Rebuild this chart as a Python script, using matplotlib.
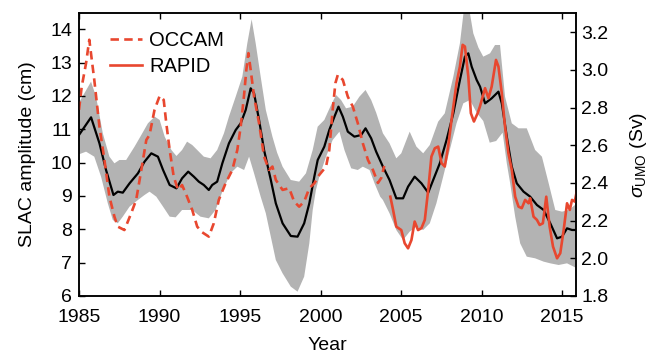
import numpy as np
import matplotlib
matplotlib.use("Agg")
import matplotlib.pyplot as plt

plt.rcParams['font.family'] = ['Liberation Sans', 'DejaVu Sans']
plt.rcParams['mathtext.fontset'] = 'custom'
plt.rcParams['mathtext.rm'] = 'Liberation Sans'
plt.rcParams['mathtext.it'] = 'Liberation Sans:italic'

RED = '#e8472f'
GREY = '#b3b3b3'

# SLAC amplitude ensemble mean (cm)
slac_year = [1985.0, 1985.75, 1986.27, 1986.68, 1987.14, 1987.41, 1987.72, 1988.14,
             1988.66, 1989.07, 1989.49, 1989.9, 1990.22, 1990.63, 1991.05, 1991.4,
             1991.78, 1992.13, 1992.44, 1992.75, 1993.06, 1993.27, 1993.58, 1993.9,
             1994.31, 1994.73, 1995.04, 1995.35, 1995.66, 1995.87, 1996.18, 1996.49,
             1996.91, 1997.22, 1997.64, 1998.15, 1998.57, 1998.98, 1999.3, 1999.61,
             1999.82, 2000.23, 2000.54, 2000.86, 2001.11, 2001.38, 2001.69, 2002.1,
             2002.52, 2002.79, 2003.14, 2003.45, 2003.87, 2004.28, 2004.7, 2005.12,
             2005.43, 2005.84, 2006.26, 2006.68, 2006.99, 2007.4, 2007.82, 2008.24,
             2008.65, 2008.96, 2009.17, 2009.38, 2009.69, 2009.9, 2010.21, 2010.62,
             2011.04, 2011.25, 2011.56, 2011.87, 2012.18, 2012.6, 2013.01, 2013.43,
             2013.85, 2014.26, 2014.68, 2014.99, 2015.3, 2015.61, 2015.92]
slac_mean = [10.83, 11.36, 10.58, 9.78, 9.03, 9.13, 9.1, 9.38,
             9.68, 10.03, 10.28, 10.18, 9.78, 9.33, 9.23, 9.53,
             9.73, 9.58, 9.43, 9.33, 9.18, 9.33, 9.43, 9.98,
             10.58, 10.98, 11.18, 11.58, 12.23, 12.08, 11.28, 10.38,
             9.48, 8.78, 8.18, 7.8, 7.78, 8.18, 8.78, 9.58,
             10.08, 10.48, 10.98, 11.38, 11.68, 11.38, 10.93, 10.78,
             10.83, 11.03, 10.73, 10.33, 9.88, 9.48, 8.93, 8.93,
             9.28, 9.58, 9.38, 9.1, 9.48, 9.98, 10.68, 11.48,
             12.48, 13.18, 13.28, 12.88, 12.48, 12.28, 11.78, 11.93,
             12.13, 11.78, 10.78, 9.88, 9.38, 9.13, 8.98, 8.73,
             8.58, 8.18, 7.73, 7.78, 8.03, 7.98, 7.98]

# upper edge of the ensemble spread
upper_year = [1985.0, 1985.75, 1986.06, 1986.48, 1986.89, 1987.2, 1987.51, 1987.93,
              1988.45, 1988.87, 1989.28, 1989.7, 1990.01, 1990.32, 1990.74, 1991.05,
              1991.4, 1991.71, 1992.03, 1992.34, 1992.75, 1993.17, 1993.58, 1994.0,
              1994.31, 1994.73, 1995.14, 1995.45, 1995.72, 1995.97, 1996.28, 1996.6,
              1997.01, 1997.3, 1997.64, 1998.15, 1998.67, 1999.09, 1999.51, 1999.82,
              2000.23, 2000.65, 2000.96, 2001.27, 2001.58, 2002.0, 2002.41, 2002.79,
              2003.14, 2003.45, 2003.87, 2004.28, 2004.7, 2005.01, 2005.53, 2005.95,
              2006.37, 2006.78, 2007.3, 2007.71, 2008.24, 2008.65, 2008.9, 2009.05,
              2009.23, 2009.48, 2009.8, 2010.1, 2010.52, 2010.83, 2011.14, 2011.45,
              2011.87, 2012.29, 2012.8, 2013.32, 2013.74, 2014.16, 2014.57, 2014.99,
              2015.41, 2015.92]
upper_val = [11.8, 12.43, 11.98, 10.88, 10.18, 9.98, 10.08, 10.08,
             10.48, 10.83, 11.18, 11.38, 11.28, 10.78, 10.38, 10.2,
             10.38, 10.63, 10.53, 10.38, 10.18, 10.13, 10.38, 10.88,
             11.38, 11.98, 12.58, 13.58, 14.3, 13.58, 12.58, 11.58,
             10.78, 10.3, 9.88, 9.48, 9.43, 9.68, 10.38, 11.08,
             11.28, 11.73, 12.03, 11.88, 11.63, 11.68, 11.98, 12.18,
             11.88, 11.5, 10.88, 10.58, 10.13, 10.28, 10.93, 10.48,
             10.28, 10.53, 11.23, 11.48, 12.58, 13.58, 14.6, 14.9,
             14.6, 13.88, 13.45, 13.18, 13.28, 13.53, 13.53, 11.98,
             11.18, 11.03, 11.03, 10.38, 10.18, 9.38, 8.58, 8.53,
             8.58, 8.78]

# lower edge of the ensemble spread
lower_year = [1985.0, 1985.44, 1985.95, 1986.37, 1986.79, 1987.1, 1987.41, 1987.72,
              1988.14, 1988.66, 1989.07, 1989.38, 1989.8, 1990.22, 1990.63, 1991.0,
              1991.4, 1992.03, 1992.54, 1993.06, 1993.48, 1993.9, 1994.41, 1994.83,
              1995.25, 1995.56, 1995.87, 1996.28, 1996.6, 1996.91, 1997.22, 1997.64,
              1998.15, 1998.57, 1998.98, 1999.3, 1999.51, 1999.71, 1999.92, 2000.34,
              2000.75, 2001.17, 2001.48, 2001.9, 2002.31, 2002.62, 2003.04, 2003.35,
              2003.7, 2003.87, 2004.28, 2004.7, 2005.12, 2005.53, 2005.95, 2006.37,
              2006.78, 2007.19, 2007.61, 2008.02, 2008.44, 2008.86, 2009.27, 2009.69,
              2010.1, 2010.5, 2010.9, 2011.3, 2011.56, 2011.77, 2012.08, 2012.39,
              2012.8, 2013.32, 2013.85, 2014.26, 2014.78, 2015.3, 2015.92]
lower_val = [10.25, 10.33, 10.18, 9.58, 8.78, 8.28, 8.18, 8.38,
             8.68, 8.88, 9.03, 9.13, 8.98, 8.68, 8.38, 8.36,
             8.58, 8.58, 8.38, 8.33, 8.58, 9.13, 9.68, 9.88,
             9.78, 10.18, 9.68, 8.98, 8.48, 7.78, 7.08, 6.68,
             6.28, 6.13, 6.58, 7.58, 8.58, 9.18, 9.58, 10.18,
             10.68, 10.93, 10.38, 9.83, 9.78, 9.88, 9.78, 9.38,
             8.98, 8.88, 8.48, 7.98, 7.68, 7.93, 8.08, 7.98,
             8.18, 8.78, 9.58, 10.38, 11.18, 11.78, 11.88, 11.5,
             11.25, 10.6, 10.65, 10.9, 9.98, 9.38, 8.38, 7.58,
             7.18, 7.13, 7.03, 6.98, 6.93, 6.98, 6.83]

# sigma_UMO from OCCAM (Sv)
occam_year = [1985.0, 1985.17, 1985.44, 1985.64, 1985.95, 1986.27, 1986.58, 1986.89,
              1987.2, 1987.41, 1987.82, 1988.24, 1988.55, 1988.87, 1989.18, 1989.38,
              1989.69, 1990.01, 1990.26, 1990.42, 1990.63, 1990.88, 1991.15, 1991.4,
              1991.71, 1992.03, 1992.34, 1992.65, 1993.06, 1993.37, 1993.68, 1994.1,
              1994.52, 1994.83, 1995.04, 1995.24, 1995.39, 1995.52, 1995.66, 1995.87,
              1996.18, 1996.49, 1996.8, 1997.01, 1997.22, 1997.64, 1998.05, 1998.36,
              1998.67, 1998.98, 1999.3, 1999.61, 1999.92, 2000.34, 2000.54, 2000.75,
              2000.92, 2001.07, 2001.38, 2001.69, 2002.0, 2002.31, 2002.62, 2002.94,
              2003.25, 2003.56, 2003.77, 2003.95]
occam_sv = [2.788, 2.911, 3.036, 3.16, 2.947, 2.699, 2.522, 2.327,
            2.221, 2.168, 2.15, 2.239, 2.31, 2.469, 2.628, 2.655,
            2.788, 2.862, 2.841, 2.717, 2.575, 2.434, 2.363, 2.389,
            2.327, 2.257, 2.168, 2.138, 2.115, 2.186, 2.31, 2.398,
            2.469, 2.575, 2.699, 2.858, 3.0, 3.089, 3.0, 2.858,
            2.717, 2.54, 2.469, 2.487, 2.416, 2.363, 2.372, 2.301,
            2.274, 2.301, 2.372, 2.398, 2.443, 2.487, 2.575, 2.788,
            2.93, 2.974, 2.947, 2.858, 2.805, 2.717, 2.611, 2.522,
            2.469, 2.4, 2.427, 2.49]

# sigma_UMO from RAPID (Sv)
rapid_year = [2004.33, 2004.5, 2004.7, 2005.01, 2005.22, 2005.43, 2005.64, 2005.84,
              2006.05, 2006.26, 2006.47, 2006.68, 2006.88, 2007.09, 2007.3, 2007.51,
              2007.71, 2007.92, 2008.13, 2008.44, 2008.65, 2008.82, 2008.96, 2009.17,
              2009.33, 2009.52, 2009.75, 2009.89, 2010.21, 2010.42, 2010.62, 2010.89,
              2011.04, 2011.25, 2011.45, 2011.66, 2011.87, 2012.08, 2012.29, 2012.49,
              2012.7, 2012.91, 2013.01, 2013.22, 2013.43, 2013.6, 2013.8, 2014.01,
              2014.22, 2014.43, 2014.68, 2014.88, 2015.09, 2015.3, 2015.47, 2015.61,
              2015.78, 2015.92]
rapid_sv = [2.327, 2.257, 2.168, 2.15, 2.08, 2.053, 2.097, 2.195,
            2.15, 2.16, 2.204, 2.363, 2.54, 2.584, 2.593, 2.505,
            2.487, 2.593, 2.735, 2.93, 3.018, 3.133, 3.124, 2.965,
            2.77, 2.726, 2.77, 2.805, 2.903, 2.85, 2.911, 3.053,
            3.018, 2.876, 2.699, 2.558, 2.469, 2.327, 2.274, 2.266,
            2.31, 2.292, 2.319, 2.221, 2.204, 2.177, 2.186, 2.327,
            2.168, 2.062, 2.0, 2.027, 2.15, 2.292, 2.257, 2.31,
            2.301, 2.363]

fig = plt.figure(figsize=(6.56, 3.53), dpi=100)
ax = fig.add_axes([0.1204, 0.1615, 0.757, 0.8017])

band_x = np.concatenate([upper_year, lower_year[::-1]])
band_y = np.concatenate([upper_val, lower_val[::-1]])
ax.fill(band_x, band_y, color=GREY, lw=0, zorder=1)
ax.plot(slac_year, slac_mean, color='black', lw=1.6, zorder=2)

ax.set_xlim(1985, 2015.83)
ax.set_ylim(6, 14.49)
ax.set_xticks([1985, 1990, 1995, 2000, 2005, 2010, 2015])
ax.set_yticks(range(6, 15))
ax.set_xlabel('Year', fontsize=14, labelpad=8)
ax.set_ylabel('SLAC amplitude (cm)', fontsize=14, labelpad=10)
ax.tick_params(axis='x', direction='in', top=True, length=4.5, width=1,
               labelsize=14, pad=9.5)
ax.tick_params(axis='y', direction='in', length=4.5, width=1, labelsize=14, pad=5)

ax2 = ax.twinx()
ax2.plot(occam_year, occam_sv, color=RED, lw=1.9, dashes=(3.2, 2.0), label='OCCAM')
ax2.plot(rapid_year, rapid_sv, color=RED, lw=1.9, label='RAPID')
ax2.set_ylim(1.8, 3.302)
ax2.set_yticks(np.arange(1.8, 3.21, 0.2))
ax2.set_yticklabels([f'{v:.1f}' for v in np.arange(1.8, 3.21, 0.2)])
ax2.tick_params(axis='y', direction='in', length=4.5, width=1, labelsize=14, pad=4)
ax2.set_ylabel(r'$\mathit{\sigma}_{\mathrm{UMO}}$ (Sv)', fontsize=14, labelpad=14)

for a in (ax, ax2):
    for s in a.spines.values():
        s.set_linewidth(1.1)

ax2.legend(loc='upper left', bbox_to_anchor=(0.062, 0.935), frameon=False,
           fontsize=14.5, handlelength=1.6, handletextpad=0.35, labelspacing=0.35,
           borderpad=0, borderaxespad=0)

fig.savefig('out.png', dpi=100)
